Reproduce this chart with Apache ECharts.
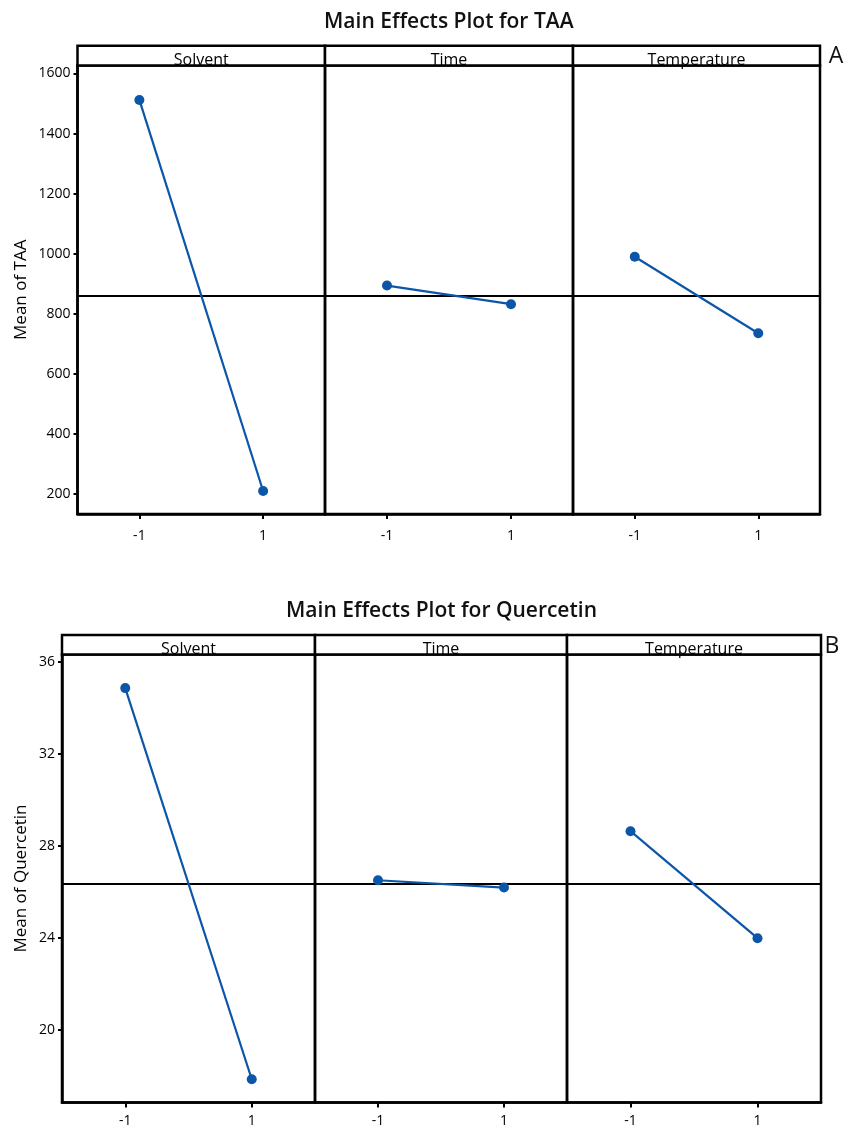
<!DOCTYPE html>
<html>
<head>
<meta charset="utf-8">
<script src="https://cdn.jsdelivr.net/npm/echarts@6/dist/echarts.min.js"></script>
<style>
html,body{margin:0;padding:0;background:#fff;}
#chart{width:846px;height:1129px;}
</style>
</head>
<body>
<div id="chart"></div>
<script>
// ---- data ----
const factors = ['Solvent', 'Time', 'Temperature'];
const levels = ['-1', '1'];
const taaSolvent = [1512, 210];
const taaTime = [894, 832];
const taaTemperature = [990, 735];
const taaMean = 861;
const taaTicks = [200, 400, 600, 800, 1000, 1200, 1400, 1600];
const qSolvent = [34.87, 17.87];
const qTime = [26.52, 26.2];
const qTemperature = [28.65, 24.0];
const qMean = 26.36;
const qTicks = [20, 24, 28, 32, 36];

// ---- layout ----
const FONT = '"Open Sans", "Noto Sans", sans-serif';
const BLUE = '#0b56a8';
const panels = [
  { title: 'Main Effects Plot for TAA', letter: 'A', yName: 'Mean of TAA',
    series: [taaSolvent, taaTime, taaTemperature], mean: taaMean, ticks: taaTicks,
    min: 133.4, max: 1626.6,
    lefts: [77.5, 325, 573], right: 820, top: 65.5, bottom: 514, stripTop: 45.7,
    titleY: 22, letterX: 836, labelMargin: 15, nameGap: 48 },
  { title: 'Main Effects Plot for Quercetin', letter: 'B', yName: 'Mean of Quercetin',
    series: [qSolvent, qTime, qTemperature], mean: qMean, ticks: qTicks,
    min: 16.86, max: 36.33,
    lefts: [62, 315, 567], right: 821, top: 654.5, bottom: 1102.5, stripTop: 635,
    titleY: 611, letterX: 832, labelMargin: 12, nameGap: 32 }
];

const grids = [], xAxes = [], yAxes = [], series = [], graphics = [];
panels.forEach((p, pi) => {
  const rights = [p.lefts[1], p.lefts[2], p.right];
  graphics.push({ type: 'text', x: (p.lefts[0] + p.right) / 2, y: p.titleY,
    style: { text: p.title, font: '600 21px ' + FONT, fill: '#111', textAlign: 'center', textVerticalAlign: 'middle' } });
  graphics.push({ type: 'text', x: p.letterX, y: p.stripTop + 11,
    style: { text: p.letter, font: '400 23px ' + FONT, fill: '#111', textAlign: 'center', textVerticalAlign: 'middle' } });
  for (let k = 0; k < 3; k++) {
    const idx = pi * 3 + k;
    const l = p.lefts[k], r = rights[k];
    grids.push({ left: l, top: p.top, width: r - l, height: p.bottom - p.top,
      show: true, borderColor: '#000', borderWidth: 2.5, backgroundColor: 'transparent' });
    xAxes.push({ type: 'category', gridIndex: idx, data: levels, boundaryGap: true,
      axisLine: { show: true, lineStyle: { color: '#000', width: 2.5 } },
      axisTick: { show: true, alignWithLabel: true, length: 5, lineStyle: { color: '#000', width: 2 } },
      axisLabel: { color: '#000', fontSize: 14, fontFamily: FONT, margin: p.labelMargin },
      splitLine: { show: false } });
    yAxes.push({ type: 'value', gridIndex: idx, min: p.min, max: p.max, show: k === 0,
      name: k === 0 ? p.yName : '', nameLocation: 'middle', nameGap: p.nameGap,
      nameTextStyle: { fontSize: 17, fontFamily: FONT, color: '#000' },
      axisLine: { show: true, lineStyle: { color: '#000', width: 2.5 } },
      axisTick: { show: true, length: 4, customValues: p.ticks, lineStyle: { color: '#000', width: 2 } },
      axisLabel: { show: true, customValues: p.ticks, color: '#000', fontSize: 14, fontFamily: FONT, margin: 7,
        formatter: v => String(v) },
      splitLine: { show: false } });
    series.push({ type: 'line', xAxisIndex: idx, yAxisIndex: idx, data: p.series[k],
      symbol: 'circle', symbolSize: 10, showSymbol: true,
      lineStyle: { color: BLUE, width: 2.2 }, itemStyle: { color: BLUE },
      z: 3,
      markLine: { silent: true, symbol: 'none', label: { show: false },
        lineStyle: { color: '#000', type: 'solid', width: 2 }, z: 2,
        data: [{ yAxis: p.mean }] } });
    // strip label
    graphics.push({ type: 'text', x: (l + r) / 2, y: p.top - 5, z: 1,
      style: { text: factors[k], font: '400 16px ' + FONT, fill: '#000', textAlign: 'center', textVerticalAlign: 'middle' } });
    // strip box
    graphics.push({ type: 'rect', z: 5, shape: { x: l, y: p.stripTop, width: r - l, height: p.top - p.stripTop },
      style: { fill: '#fff', stroke: '#000', lineWidth: 2.5 }, silent: true, zlevel: 0 });
  }
});

// Strip boxes must be drawn under their label text: reorder so boxes come first
graphics.sort((a, b) => (a.type === 'rect' ? 0 : 1) - (b.type === 'rect' ? 0 : 1));
graphics.forEach(g => { if (g.type === 'rect') g.z = 1; else g.z = 2; });

const chart = echarts.init(document.getElementById('chart'), null, { renderer: 'canvas' });
chart.setOption({
  animation: false,
  backgroundColor: '#fff',
  grid: grids, xAxis: xAxes, yAxis: yAxes, series: series, graphic: graphics
});
</script>
</body>
</html>
